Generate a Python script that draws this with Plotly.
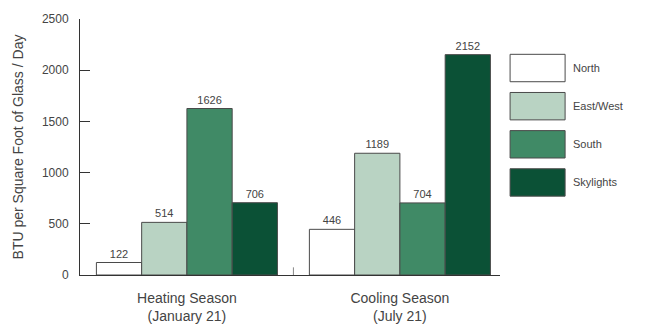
import plotly.graph_objects as go

categories = ["Heating Season<br>(January 21)", "Cooling Season<br>(July 21)"]
series_names = ["North", "East/West", "South", "Skylights"]
north = [122, 446]
east_west = [514, 1189]
south = [1626, 704]
skylights = [706, 2152]
series_values = [north, east_west, south, skylights]
colors = ["#ffffff", "#b9d3c3", "#408a66", "#0b5136"]
y_ticks = [0, 500, 1000, 1500, 2000, 2500]

FONT = "Liberation Sans Narrow, Arial Narrow, Liberation Sans, sans-serif"
TXT = "#444444"

fig = go.Figure()
for name, vals, col in zip(series_names, series_values, colors):
    fig.add_trace(go.Bar(
        x=[0, 1], y=vals, name=name,
        marker=dict(color=col, line=dict(color="#4a4a4a", width=1)),
        text=[str(v) for v in vals], textposition="outside",
        textfont=dict(family=FONT, size=11, color=TXT),
        cliponaxis=False, showlegend=False,
    ))

# custom legend with large swatches
for i, (name, col) in enumerate(zip(series_names, colors)):
    y_top = 0.862 - i * 0.149
    fig.add_shape(type="rect", xref="paper", yref="paper",
                  x0=1.024, x1=1.155, y0=y_top - 0.107, y1=y_top,
                  fillcolor=col, line=dict(color="#4a4a4a", width=1))
    fig.add_annotation(xref="paper", yref="paper", x=1.168, y=y_top - 0.053,
                       text=name, showarrow=False, xanchor="left", yanchor="middle",
                       font=dict(family=FONT, size=11, color=TXT))

# small divider tick between the two groups
fig.add_shape(type="line", xref="x", yref="paper", x0=0.5, x1=0.5, y0=0, y1=0.03,
              line=dict(color="#888888", width=1))

fig.update_layout(
    width=645, height=336,
    margin=dict(l=80, r=145, t=17, b=58),
    paper_bgcolor="white", plot_bgcolor="white",
    barmode="group", bargap=0.15, bargroupgap=0,
    font=dict(family=FONT, color=TXT),
)
fig.update_xaxes(
    tickmode="array", tickvals=[0, 1], ticktext=categories,
    range=[-0.502, 1.47], showline=True, linecolor="#333333", linewidth=1,
    ticks="", showgrid=False, zeroline=False, ticklabelstandoff=10,
    tickfont=dict(family=FONT, size=14, color=TXT),
)
fig.update_yaxes(
    range=[0, 2500], tickvals=y_ticks, showline=True, linecolor="#333333",
    linewidth=1, ticks="inside", ticklen=10, tickcolor="#333333",
    showgrid=False, zeroline=False, ticklabelstandoff=8,
    tickfont=dict(family=FONT, size=12, color=TXT),
    title=dict(text="BTU per Square Foot of Glass / Day",
               font=dict(family=FONT, size=14, color=TXT), standoff=14),
)
fig.write_html("out.html")
